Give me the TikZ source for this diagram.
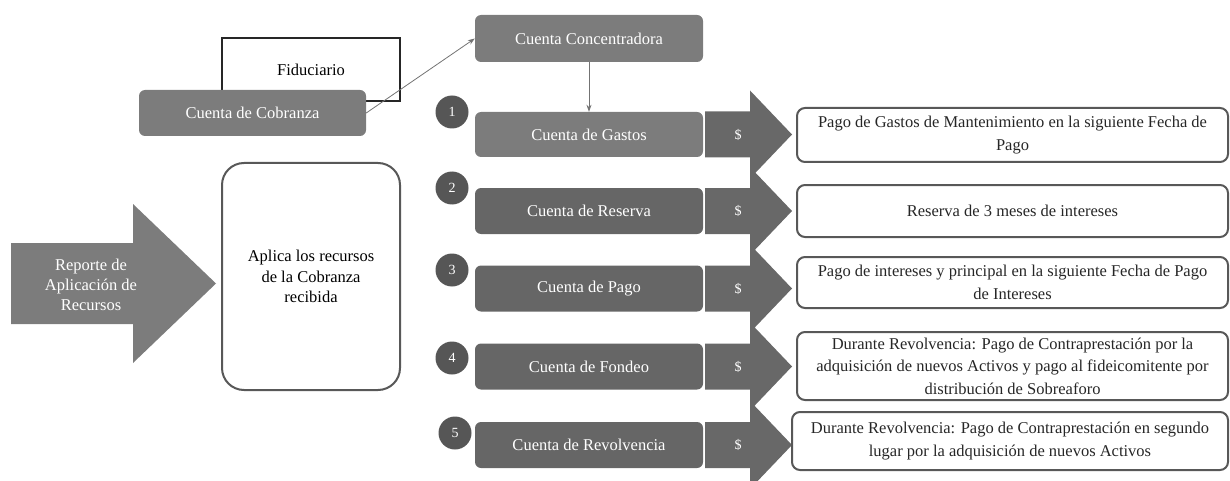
\documentclass[tikz,border=0pt]{standalone}
\usepackage{fontspec}
\setmainfont{Liberation Serif}
\usepackage{tikz}
\usetikzlibrary{arrows.meta}
\usepackage{color}
\definecolor{cuentagris}{RGB}{124, 124, 124}
\definecolor{cuentaoscura}{RGB}{102, 102, 102}
\definecolor{flechagris}{RGB}{104, 104, 104}
\definecolor{circulogris}{RGB}{86, 86, 86}
\definecolor{bordegris}{RGB}{88, 88, 88}

\begin{document}
\begin{tikzpicture}[x=1pt, y=-1pt, font=\rmfamily\fontsize{16.5}{21}\selectfont,
    cuenta/.style={rounded corners=6pt, minimum width=228pt, minimum height=46pt,
                   inner sep=0pt, text=white},
    destino/.style={draw=bordegris, line width=2pt, rounded corners=8pt, inner sep=0pt,
                    align=center, text=black!85, font=\rmfamily\fontsize{16.5}{22.5}\selectfont},
    circulo/.style={circle, fill=circulogris, minimum size=33pt, inner sep=0pt,
                    text=white, font=\rmfamily\fontsize{14}{16}\selectfont},
    conector/.style={draw=black!55, line width=0.8pt, -{Stealth[length=7pt, width=5pt]}}]
            % Frame to keep the page size:
            \useasboundingbox                                                 (0, 0) rectangle (1230, 481);
            % Fiduciario & Cobranza
            \node[draw=black!85, line width=2pt, minimum width=178pt, minimum height=63pt]
                 (fiduciario) at (311, 69.5) {Fiduciario};
            \node[cuenta, fill=cuentagris, minimum width=227pt] (cobranza)      at (252.5, 113.0) {Cuenta de Cobranza};
            \node[cuenta, fill=cuentagris, minimum height=47pt] (concentradora) at (589.0,  38.5) {Cuenta Concentradora};
            % Accounts
            \node[cuenta, fill=cuentagris, minimum height=45pt] (gastos)        at (589.0, 134.5) {Cuenta de Gastos};
            \node[cuenta, fill=cuentaoscura]                    (reserva)       at (589.0, 211.0) {Cuenta de Reserva};
            \node[cuenta, fill=cuentaoscura]                    (pago)          at (589.0, 288.5) {Cuenta de Pago};
            \node[cuenta, fill=cuentaoscura]                    (fondeo)        at (589.0, 366.5) {Cuenta de Fondeo};
            \node[cuenta, fill=cuentaoscura]                    (revolvencia)   at (589.0, 445.0) {Cuenta de Revolvencia};
            % Order
            \node[circulo] (orden1) at (452, 112) {1};
            \node[circulo] (orden2) at (452, 188) {2};
            \node[circulo] (orden3) at (452, 270) {3};
            \node[circulo] (orden4) at (452, 358) {4};
            \node[circulo] (orden5) at (455, 433) {5};
            % Flow of the money
            \draw[conector] (cobranza.east)       -- (concentradora.west);
            \draw[conector] (concentradora.south) -- (gastos.north);
            % Report arrow & applying box
            \fill[cuentagris] (11, 243) -- (133, 243) -- (133, 204) -- (216, 283.5)
                              -- (133, 363) -- (133, 324) -- (11, 324) -- cycle;
            \node[align=center, text=white, font=\rmfamily\fontsize{16.5}{20}\selectfont]
                 (reporte) at (91, 285) {Reporte de\\Aplicación de\\Recursos};
            \node[draw=bordegris, line width=2pt, rounded corners=22pt, minimum width=178pt,
                  minimum height=227pt, align=center, font=\rmfamily\fontsize{16.5}{20.5}\selectfont]
                 (aplica) at (311, 276.5) {Aplica los recursos\\de la Cobranza\\recibida};
            % Money arrows
            \foreach \fila/\yc in {1/134.5, 2/211.0, 3/288.5, 4/366.5, 5/445.0}{
                \fill[flechagris] (705, {\yc-23}) -- (750, {\yc-23}) -- (750, {\yc-44}) -- (792, \yc)
                                  -- (750, {\yc+44}) -- (750, {\yc+23}) -- (705, {\yc+23}) -- cycle;
                \node[text=white, font=\rmfamily\fontsize{14}{16}\selectfont] (dinero\fila) at (738, \yc) {\$};
            }
            % Destinations
            \node[destino, minimum width=431pt, minimum height=54pt] (destino1) at (1012.5, 135.0)
                 {Pago de Gastos de Mantenimiento en la siguiente Fecha de\\Pago};
            \node[destino, minimum width=431pt, minimum height=52pt] (destino2) at (1012.5, 211.0)
                 {Reserva de 3 meses de intereses};
            \node[destino, minimum width=431pt, minimum height=51pt] (destino3) at (1012.5, 282.5)
                 {Pago de intereses y principal en la siguiente Fecha de Pago\\de Intereses};
            \node[destino, minimum width=431pt, minimum height=68pt] (destino4) at (1012.5, 366.0)
                 {Durante Revolvencia: Pago de Contraprestación por la\\adquisición de nuevos Activos y pago al fideicomitente por\\distribución de Sobreaforo};
            \node[destino, minimum width=436pt, minimum height=58pt] (destino5) at (1010.0, 441.0)
                 {Durante Revolvencia: Pago de Contraprestación en segundo\\lugar por la adquisición de nuevos Activos};
        \end{tikzpicture}
\end{document}
